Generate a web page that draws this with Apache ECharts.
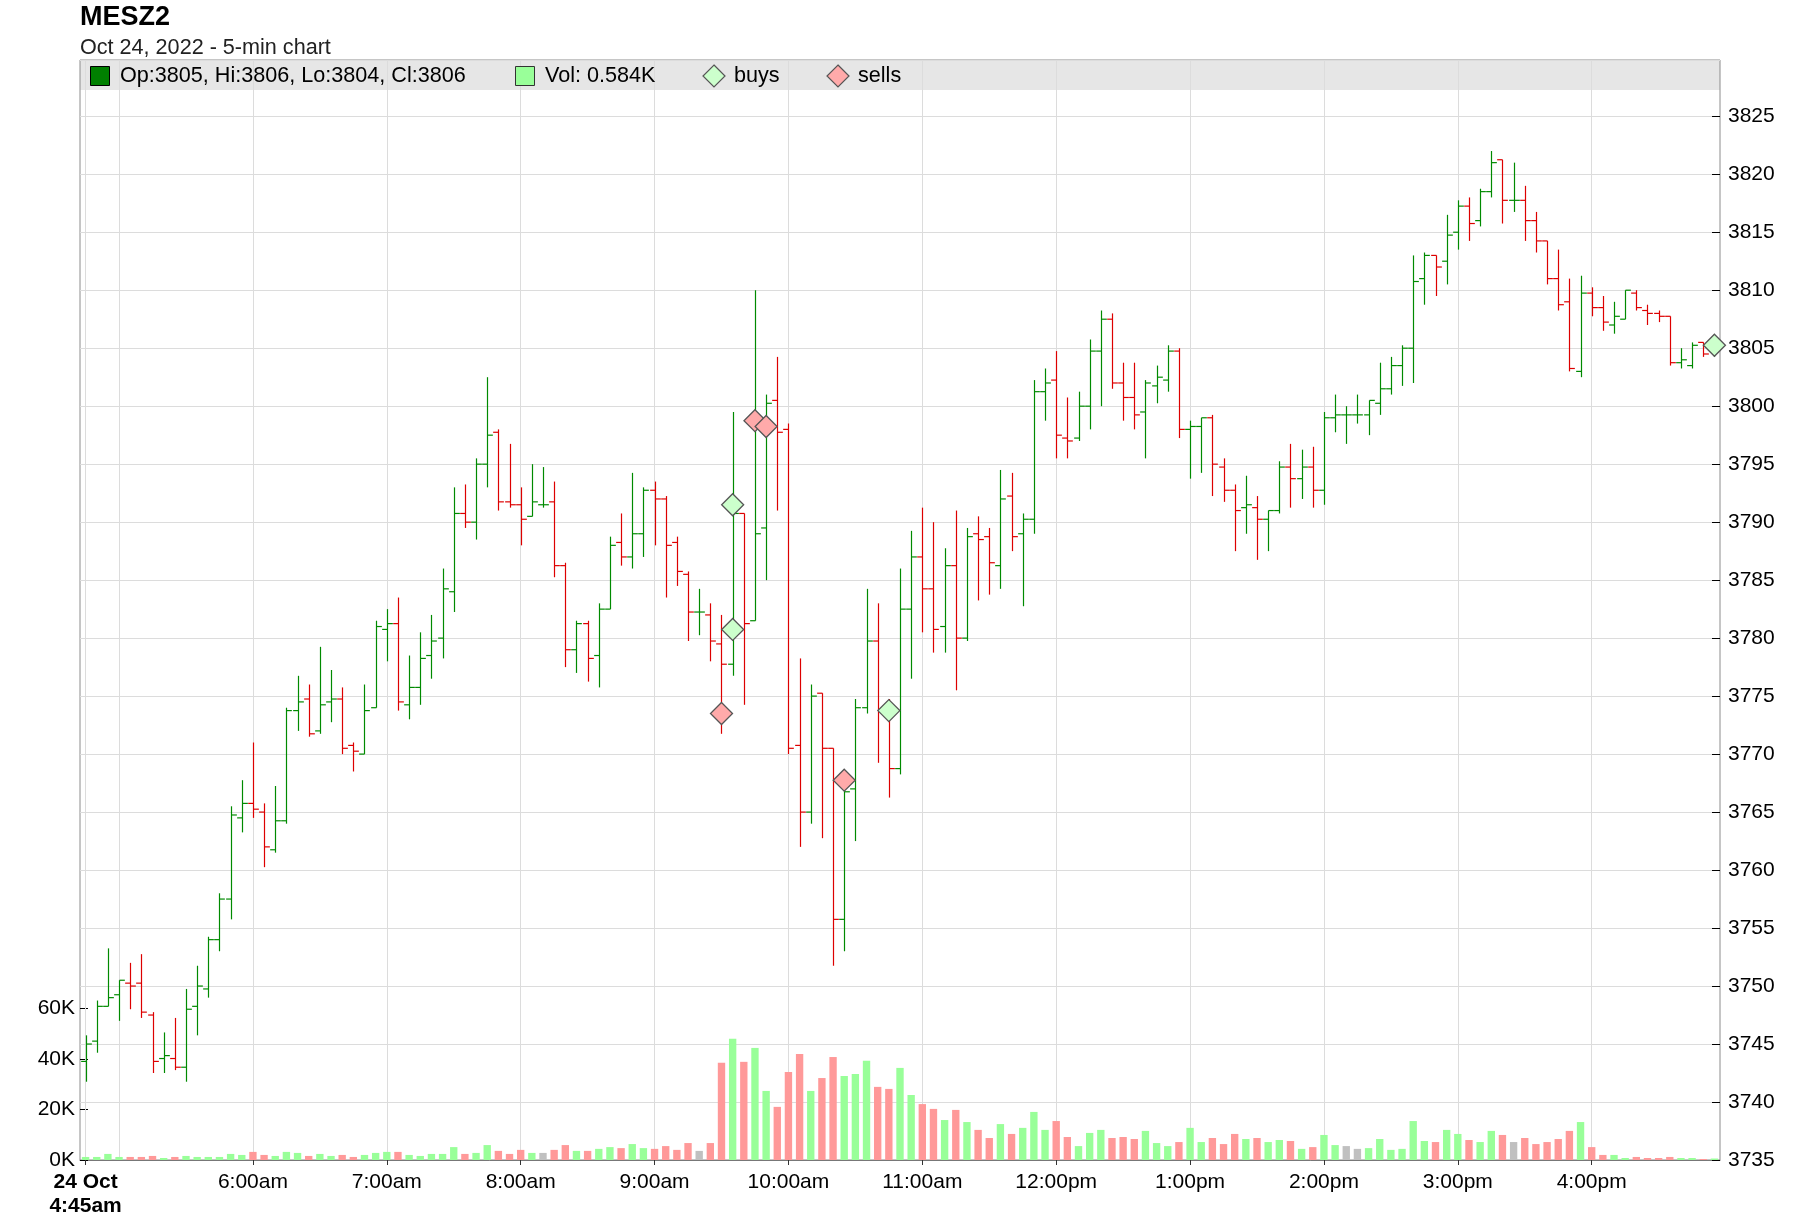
<!DOCTYPE html>
<html>
<head>
<meta charset="utf-8">
<title>MESZ2</title>
<script src="https://cdn.jsdelivr.net/npm/echarts@6/dist/echarts.min.js"></script>
<style>
  html, body { margin: 0; padding: 0; background: #fff; }
  #chart { width: 1800px; height: 1232px; }
</style>
</head>
<body>
<div id="chart"></div>
<script>
// 5-min bars, 24 Oct 2022, from 4:45am
const opens = [
  3743.5, 3745.25, 3748.25, 3749.25, 3750.25, 3750.25, 3747.5, 3743.75, 3743.75, 3743.0,
  3748.25, 3749.75, 3754.0, 3757.5, 3764.5, 3765.75, 3765.0, 3761.75, 3764.25, 3773.75,
  3774.75, 3772.0, 3774.5, 3774.75, 3770.75, 3770.0, 3774.0, 3780.75, 3781.25, 3774.25,
  3775.75, 3778.5, 3780.0, 3784.0, 3790.75, 3790.0, 3795.0, 3797.75, 3791.75, 3791.5,
  3790.5, 3791.5, 3791.75, 3786.25, 3779.0, 3781.25, 3778.5, 3782.5, 3788.25, 3787.0,
  3789.0, 3792.75, 3792.0, 3788.25, 3785.5, 3782.25, 3782.0, 3779.5, 3777.75, 3790.75,
  3781.5, 3789.5, 3800.5, 3798.0, 3770.75, 3765.0, 3775.25, 3770.5, 3755.75, 3767.0,
  3774.0, 3779.75, 3773.75, 3768.75, 3782.5, 3787.0, 3784.25, 3781.0, 3786.25, 3780.0,
  3789.0, 3788.75, 3786.25, 3792.25, 3789.0, 3790.25, 3801.25, 3802.25, 3797.25, 3797.25,
  3800.0, 3804.75, 3807.5, 3802.0, 3800.75, 3799.5, 3801.75, 3802.25, 3804.75, 3798.0,
  3798.25, 3799.0, 3794.75, 3792.75, 3791.25, 3791.25, 3790.25, 3791.0, 3794.75, 3793.75,
  3794.75, 3792.75, 3799.0, 3799.25, 3799.25, 3799.25, 3800.25, 3801.5, 3803.5, 3805.0,
  3811.0, 3813.0, 3812.5, 3815.0, 3817.25, 3816.0, 3818.5, 3821.25, 3817.75, 3817.75,
  3816.0, 3814.25, 3811.0, 3809.0, 3803.0, 3809.75, 3808.5, 3807.0, 3807.5, 3809.75,
  3808.25, 3808.0, 3807.75, 3803.75, 3803.5, 3805.5, 3805.0
];
const highs = [
  3745.75, 3748.75, 3753.25, 3750.5, 3752.0, 3752.75, 3747.75, 3746.0, 3747.25, 3749.75,
  3751.75, 3754.25, 3758.0, 3765.5, 3767.75, 3771.0, 3765.75, 3767.25, 3774.0, 3776.75,
  3776.0, 3779.25, 3777.25, 3775.75, 3771.0, 3776.0, 3781.5, 3782.5, 3783.5, 3778.5,
  3780.5, 3782.0, 3786.0, 3793.0, 3793.25, 3795.5, 3802.5, 3798.0, 3796.75, 3793.0,
  3795.0, 3794.75, 3793.5, 3786.5, 3781.5, 3781.5, 3783.0, 3788.75, 3790.75, 3794.25,
  3793.0, 3793.5, 3792.25, 3788.75, 3785.75, 3784.25, 3783.0, 3782.0, 3799.5, 3790.75,
  3810.0, 3801.0, 3804.25, 3798.5, 3778.25, 3776.0, 3775.25, 3770.5, 3767.75, 3774.75,
  3784.25, 3783.0, 3774.75, 3786.0, 3789.25, 3791.25, 3790.0, 3787.75, 3791.0, 3789.5,
  3790.5, 3789.5, 3794.5, 3794.25, 3790.75, 3802.25, 3803.25, 3804.75, 3800.75, 3801.25,
  3805.75, 3808.25, 3808.0, 3803.75, 3803.75, 3802.25, 3803.5, 3805.25, 3805.0, 3798.75,
  3799.0, 3799.25, 3795.5, 3793.25, 3794.0, 3792.25, 3791.0, 3795.25, 3796.75, 3796.25,
  3796.5, 3799.5, 3801.0, 3800.0, 3801.0, 3800.5, 3803.75, 3804.25, 3805.25, 3813.0,
  3813.25, 3813.0, 3816.5, 3817.75, 3818.0, 3818.75, 3822.0, 3821.25, 3821.0, 3819.0,
  3816.75, 3814.25, 3813.5, 3811.0, 3811.25, 3810.25, 3809.5, 3809.0, 3810.0, 3810.0,
  3808.75, 3808.25, 3807.75, 3805.0, 3805.5, 3805.5, 3805.75
];
const lows = [
  3741.75, 3744.25, 3748.25, 3747.0, 3748.0, 3747.25, 3742.5, 3742.5, 3742.75, 3741.75,
  3745.75, 3749.0, 3753.0, 3755.75, 3763.25, 3764.5, 3760.25, 3761.5, 3764.0, 3772.0,
  3771.5, 3771.75, 3772.75, 3770.0, 3768.5, 3770.0, 3774.0, 3778.0, 3773.75, 3773.0,
  3774.25, 3776.5, 3778.25, 3782.25, 3789.5, 3788.5, 3793.0, 3791.0, 3791.25, 3788.0,
  3790.5, 3791.25, 3785.25, 3777.5, 3777.0, 3776.25, 3775.75, 3782.5, 3786.25, 3786.0,
  3787.0, 3788.0, 3783.5, 3784.5, 3779.75, 3780.25, 3778.0, 3771.75, 3776.75, 3774.25,
  3781.5, 3785.0, 3791.0, 3770.0, 3762.0, 3764.0, 3762.75, 3751.75, 3753.0, 3762.5,
  3773.5, 3769.25, 3766.25, 3768.25, 3776.5, 3780.5, 3778.75, 3778.75, 3775.5, 3779.75,
  3783.25, 3783.75, 3784.25, 3787.5, 3782.75, 3789.0, 3798.75, 3795.5, 3795.5, 3797.0,
  3798.0, 3800.0, 3801.5, 3798.75, 3798.0, 3795.5, 3800.25, 3801.25, 3797.25, 3793.75,
  3794.25, 3792.25, 3791.75, 3787.5, 3789.0, 3786.75, 3787.5, 3790.75, 3791.25, 3792.0,
  3791.25, 3791.5, 3797.75, 3796.75, 3798.5, 3797.5, 3799.25, 3801.0, 3801.75, 3802.0,
  3808.75, 3809.5, 3810.5, 3813.5, 3814.25, 3815.5, 3818.0, 3815.75, 3816.75, 3814.25,
  3813.25, 3810.5, 3808.25, 3803.0, 3802.5, 3807.75, 3806.5, 3806.25, 3807.5, 3808.25,
  3807.0, 3807.25, 3803.5, 3803.25, 3803.25, 3804.25, 3804.25
];
const closes = [
  3745.0, 3748.25, 3749.0, 3750.5, 3750.0, 3747.75, 3743.5, 3744.0, 3743.0, 3748.0,
  3750.0, 3754.0, 3757.5, 3764.75, 3765.75, 3765.25, 3762.0, 3764.25, 3773.75, 3774.5,
  3771.75, 3774.25, 3774.75, 3770.5, 3770.25, 3773.75, 3781.0, 3781.25, 3774.5, 3775.75,
  3778.25, 3779.75, 3784.25, 3790.75, 3790.0, 3795.0, 3797.5, 3791.75, 3791.5, 3790.25,
  3791.75, 3791.5, 3786.25, 3779.0, 3781.25, 3778.25, 3782.5, 3788.0, 3787.0, 3789.0,
  3792.75, 3792.0, 3788.0, 3785.75, 3782.25, 3782.25, 3779.75, 3777.75, 3790.75, 3781.25,
  3789.0, 3800.25, 3797.75, 3770.5, 3765.0, 3775.0, 3770.5, 3755.75, 3766.75, 3774.0,
  3779.75, 3773.75, 3768.75, 3782.5, 3787.0, 3784.25, 3780.75, 3786.25, 3780.0, 3788.75,
  3788.5, 3786.5, 3792.0, 3788.75, 3790.25, 3801.25, 3802.0, 3797.5, 3797.0, 3800.0,
  3804.75, 3807.5, 3802.0, 3800.75, 3799.25, 3802.0, 3802.5, 3804.75, 3798.0, 3798.25,
  3799.0, 3795.0, 3792.75, 3791.0, 3791.5, 3790.25, 3791.0, 3794.75, 3793.75, 3794.75,
  3792.75, 3799.0, 3799.25, 3799.25, 3799.25, 3800.5, 3801.5, 3803.5, 3805.0, 3810.75,
  3813.0, 3812.0, 3814.75, 3817.25, 3815.75, 3818.5, 3821.0, 3817.75, 3817.75, 3816.0,
  3814.25, 3811.0, 3808.75, 3803.25, 3809.75, 3808.5, 3807.25, 3807.75, 3810.0, 3808.5,
  3808.0, 3807.75, 3803.75, 3804.0, 3805.25, 3804.5, 3805.5
];
// volume in thousands of contracts
const volumes = [
  1.2, 1.2, 2.4, 1.2, 1.2, 1.2, 1.6, 0.8, 1.2, 1.6,
  1.2, 1.2, 1.2, 2.4, 2.0, 3.2, 2.0, 1.6, 3.2, 2.8,
  1.6, 2.4, 1.6, 2.0, 1.2, 2.0, 2.8, 3.2, 3.2, 2.0,
  1.6, 2.4, 2.4, 5.1, 2.4, 2.8, 5.9, 3.6, 2.4, 4.0,
  2.8, 2.8, 4.0, 5.9, 3.6, 3.6, 4.4, 5.1, 4.7, 6.3,
  4.7, 4.4, 5.5, 4.0, 6.7, 3.6, 6.7, 38.4, 47.9, 38.8,
  44.3, 27.3, 21.0, 34.8, 41.9, 27.3, 32.4, 40.7, 33.2, 34.0,
  39.2, 28.9, 28.1, 36.4, 25.7, 22.1, 20.2, 15.8, 19.8, 15.0,
  11.9, 8.7, 14.2, 10.3, 12.7, 19.0, 11.9, 15.4, 9.1, 5.5,
  10.7, 11.9, 8.7, 9.1, 8.3, 11.5, 6.7, 5.5, 7.1, 12.7,
  7.1, 8.7, 6.3, 10.3, 8.3, 8.7, 7.1, 7.9, 7.5, 4.4,
  5.1, 9.9, 5.9, 5.5, 4.4, 4.7, 8.3, 4.0, 4.4, 15.4,
  7.5, 7.1, 11.9, 10.3, 7.9, 7.1, 11.5, 9.9, 7.1, 8.7,
  6.3, 7.1, 8.3, 11.5, 15.0, 5.1, 2.0, 2.0, 0.8, 1.2,
  0.8, 0.8, 1.2, 0.8, 0.8, 0.4, 0.584
];

// trade markers: bar index + price
const buysIdx = [58, 58, 72, 146];
const buysPx = [3791.5, 3780.75, 3773.75, 3805.25];
const sellsIdx = [57, 60, 61, 68];
const sellsPx = [3773.5, 3798.75, 3798.25, 3767.75];

// x axis labels and hour grid lines (bar index)
const tickIdx = [0, 15, 27, 39, 51, 63, 75, 87, 99, 111, 123, 135];
const tickText = ['24 Oct\n4:45am', '6:00am', '7:00am', '8:00am', '9:00am', '10:00am',
  '11:00am', '12:00pm', '1:00pm', '2:00pm', '3:00pm', '4:00pm'];
const gridIdx = [0, 3, 15, 27, 39, 51, 63, 75, 87, 99, 111, 123, 135];
const volTicks = [0, 20000, 40000, 60000];

const UP = '#008a00';
const DOWN = '#dd0000';
const VOL_UP = '#99ff99';
const VOL_DOWN = '#ff9999';
const VOL_FLAT = '#c0c0c0';
const FONT = '"Liberation Sans", Arial, Helvetica, sans-serif';

// category names: bar start times
const times = [];
for (let i = 0; i < opens.length; i++) {
  const m = 4 * 60 + 45 + 5 * i;
  const h = Math.floor(m / 60), mm = m % 60;
  const h12 = h > 12 ? h - 12 : h;
  times.push(h12 + ':' + (mm < 10 ? '0' : '') + mm + (h >= 12 ? 'pm' : 'am'));
}

const last = opens.length - 1;
const ohlcText = 'Op:' + Math.round(opens[last]) + ', Hi:' + Math.round(highs[last]) +
  ', Lo:' + Math.round(lows[last]) + ', Cl:' + Math.round(closes[last]);
const volText = 'Vol: ' + volumes[last].toFixed(3) + 'K';

const ohlcData = opens.map((o, i) => [i, o, highs[i], lows[i], closes[i]]);
const volData = volumes.map((v, i) => ({
  value: v * 1000,
  itemStyle: {
    color: closes[i] > opens[i] ? VOL_UP : (closes[i] < opens[i] ? VOL_DOWN : VOL_FLAT)
  }
}));

function renderOhlc(params, api) {
  const i = api.value(0);
  const o = api.value(1), h = api.value(2), l = api.value(3), c = api.value(4);
  const color = c >= o ? UP : DOWN;
  const x = Math.round(api.coord([i, o])[0]) + 0.5;
  const half = api.size([1, 0])[0] * 0.48;
  const yO = api.coord([i, o])[1];
  const yH = api.coord([i, h])[1];
  const yL = api.coord([i, l])[1];
  const yC = api.coord([i, c])[1];
  const st = { stroke: color, lineWidth: 1.2 };
  return {
    type: 'group',
    children: [
      { type: 'line', shape: { x1: x, y1: yH, x2: x, y2: yL }, style: st },
      { type: 'line', shape: { x1: x - half, y1: yO, x2: x, y2: yO }, style: st },
      { type: 'line', shape: { x1: x, y1: yC, x2: x + half, y2: yC }, style: st }
    ]
  };
}

const chart = echarts.init(document.getElementById('chart'));

const option = {
  animation: false,
  backgroundColor: '#ffffff',
  textStyle: { fontFamily: FONT },
  title: [
    {
      text: 'MESZ2', left: 80, top: 4, padding: 0,
      textStyle: { fontSize: 27, fontWeight: 'bold', color: '#000', fontFamily: FONT }
    },
    {
      text: 'Oct 24, 2022 - 5-min chart', left: 80, top: 37, padding: 0,
      textStyle: { fontSize: 21.6, fontWeight: 'normal', color: '#222', fontFamily: FONT }
    }
  ],
  grid: {
    left: 80, right: 80, top: 60, height: 1100,
    show: true, borderColor: '#8c8c8c', borderWidth: 1, backgroundColor: 'transparent'
  },
  xAxis: {
    type: 'category',
    data: times,
    boundaryGap: true,
    axisLine: { lineStyle: { color: '#777', width: 1 } },
    axisTick: {
      show: true, alignWithLabel: true, length: 5,
      interval: (idx) => tickIdx.indexOf(idx) >= 0,
      lineStyle: { color: '#333' }
    },
    axisLabel: {
      interval: (idx) => tickIdx.indexOf(idx) >= 0,
      formatter: function (value, idx) {
        const k = tickIdx.indexOf(idx);
        if (k < 0) return '';
        if (k === 0) return tickText[0].split('\n').map(s => '{b|' + s + '}').join('\n');
        return tickText[k];
      },
      margin: 10,
      fontSize: 21,
      lineHeight: 24,
      color: '#000',
      fontFamily: FONT,
      rich: { b: { fontWeight: 'bold', fontSize: 21, lineHeight: 24, color: '#000', fontFamily: FONT } }
    },
    splitLine: { show: false }
  },
  yAxis: [
    {
      type: 'value',
      position: 'right',
      min: 3735,
      max: 3829.85,
      interval: 5,
      axisLine: { show: false },
      axisTick: { show: true, inside: true, length: 8, lineStyle: { color: '#000' } },
      axisLabel: {
        margin: 8, fontSize: 21, color: '#000', fontFamily: FONT,
        showMaxLabel: false,
        formatter: (v) => String(v)
      },
      splitLine: { show: true, lineStyle: { color: '#dcdcdc', width: 1 } }
    },
    {
      type: 'value',
      position: 'left',
      min: 0,
      max: 434800,
      interval: 20000,
      axisLine: { show: false },
      axisTick: {
        show: true, inside: true, length: 8, customValues: volTicks,
        lineStyle: { color: '#000' }
      },
      axisLabel: {
        margin: 5, fontSize: 21, color: '#000', fontFamily: FONT,
        customValues: volTicks,
        formatter: (v) => (v > 60000 ? '' : (v / 1000) + 'K')
      },
      splitLine: { show: false }
    }
  ],
  graphic: [
    { type: 'rect', z: -1, silent: true, shape: { x: 80, y: 60, width: 1640, height: 30 }, style: { fill: '#e6e6e6' } },
    { type: 'rect', z: 10, shape: { x: 90.5, y: 66.5, width: 19, height: 19 }, style: { fill: '#008000', stroke: '#000', lineWidth: 1 } },
    { type: 'text', z: 10, x: 120, y: 76, style: { text: ohlcText, fontSize: 21.6, fontFamily: FONT, fill: '#000', verticalAlign: 'middle' } },
    { type: 'rect', z: 10, shape: { x: 515.5, y: 66.5, width: 19, height: 19 }, style: { fill: VOL_UP, stroke: '#333', lineWidth: 1 } },
    { type: 'text', z: 10, x: 545, y: 76, style: { text: volText, fontSize: 21.6, fontFamily: FONT, fill: '#000', verticalAlign: 'middle' } },
    { type: 'polygon', z: 10, shape: { points: [[714, 65], [725, 76], [714, 87], [703, 76]] }, style: { fill: '#ccffcc', stroke: '#555', lineWidth: 1.2 } },
    { type: 'text', z: 10, x: 734, y: 76, style: { text: 'buys', fontSize: 21.6, fontFamily: FONT, fill: '#000', verticalAlign: 'middle' } },
    { type: 'polygon', z: 10, shape: { points: [[838, 65], [849, 76], [838, 87], [827, 76]] }, style: { fill: '#ffaaaa', stroke: '#555', lineWidth: 1.2 } },
    { type: 'text', z: 10, x: 858, y: 76, style: { text: 'sells', fontSize: 21.6, fontFamily: FONT, fill: '#000', verticalAlign: 'middle' } }
  ],
  series: [
    {
      name: 'Vol',
      type: 'bar',
      xAxisIndex: 0,
      yAxisIndex: 1,
      barWidth: '66%',
      data: volData,
      z: 2,
      markLine: {
        silent: true,
        z: 1,
        symbol: ['none', 'none'],
        label: { show: false },
        lineStyle: { color: '#dcdcdc', width: 1, type: 'solid' },
        data: gridIdx.map(i => ({ xAxis: times[i] }))
      }
    },
    {
      name: 'price',
      type: 'custom',
      xAxisIndex: 0,
      yAxisIndex: 0,
      z: 3,
      data: ohlcData,
      encode: { x: 0, y: [1, 2, 3, 4] },
      renderItem: renderOhlc
    },
    {
      name: 'sells',
      type: 'scatter',
      yAxisIndex: 0,
      symbol: 'diamond',
      symbolSize: [22, 22],
      z: 5,
      itemStyle: { color: '#ffaaaa', borderColor: '#555', borderWidth: 1.3, opacity: 1 },
      data: sellsIdx.map((x, k) => [x, sellsPx[k]])
    },
    {
      name: 'buys',
      type: 'scatter',
      yAxisIndex: 0,
      symbol: 'diamond',
      symbolSize: [22, 22],
      z: 6,
      itemStyle: { color: '#ccffcc', borderColor: '#555', borderWidth: 1.3, opacity: 1 },
      data: buysIdx.map((x, k) => [x, buysPx[k]])
    }
  ]
};

chart.setOption(option);
</script>
</body>
</html>
